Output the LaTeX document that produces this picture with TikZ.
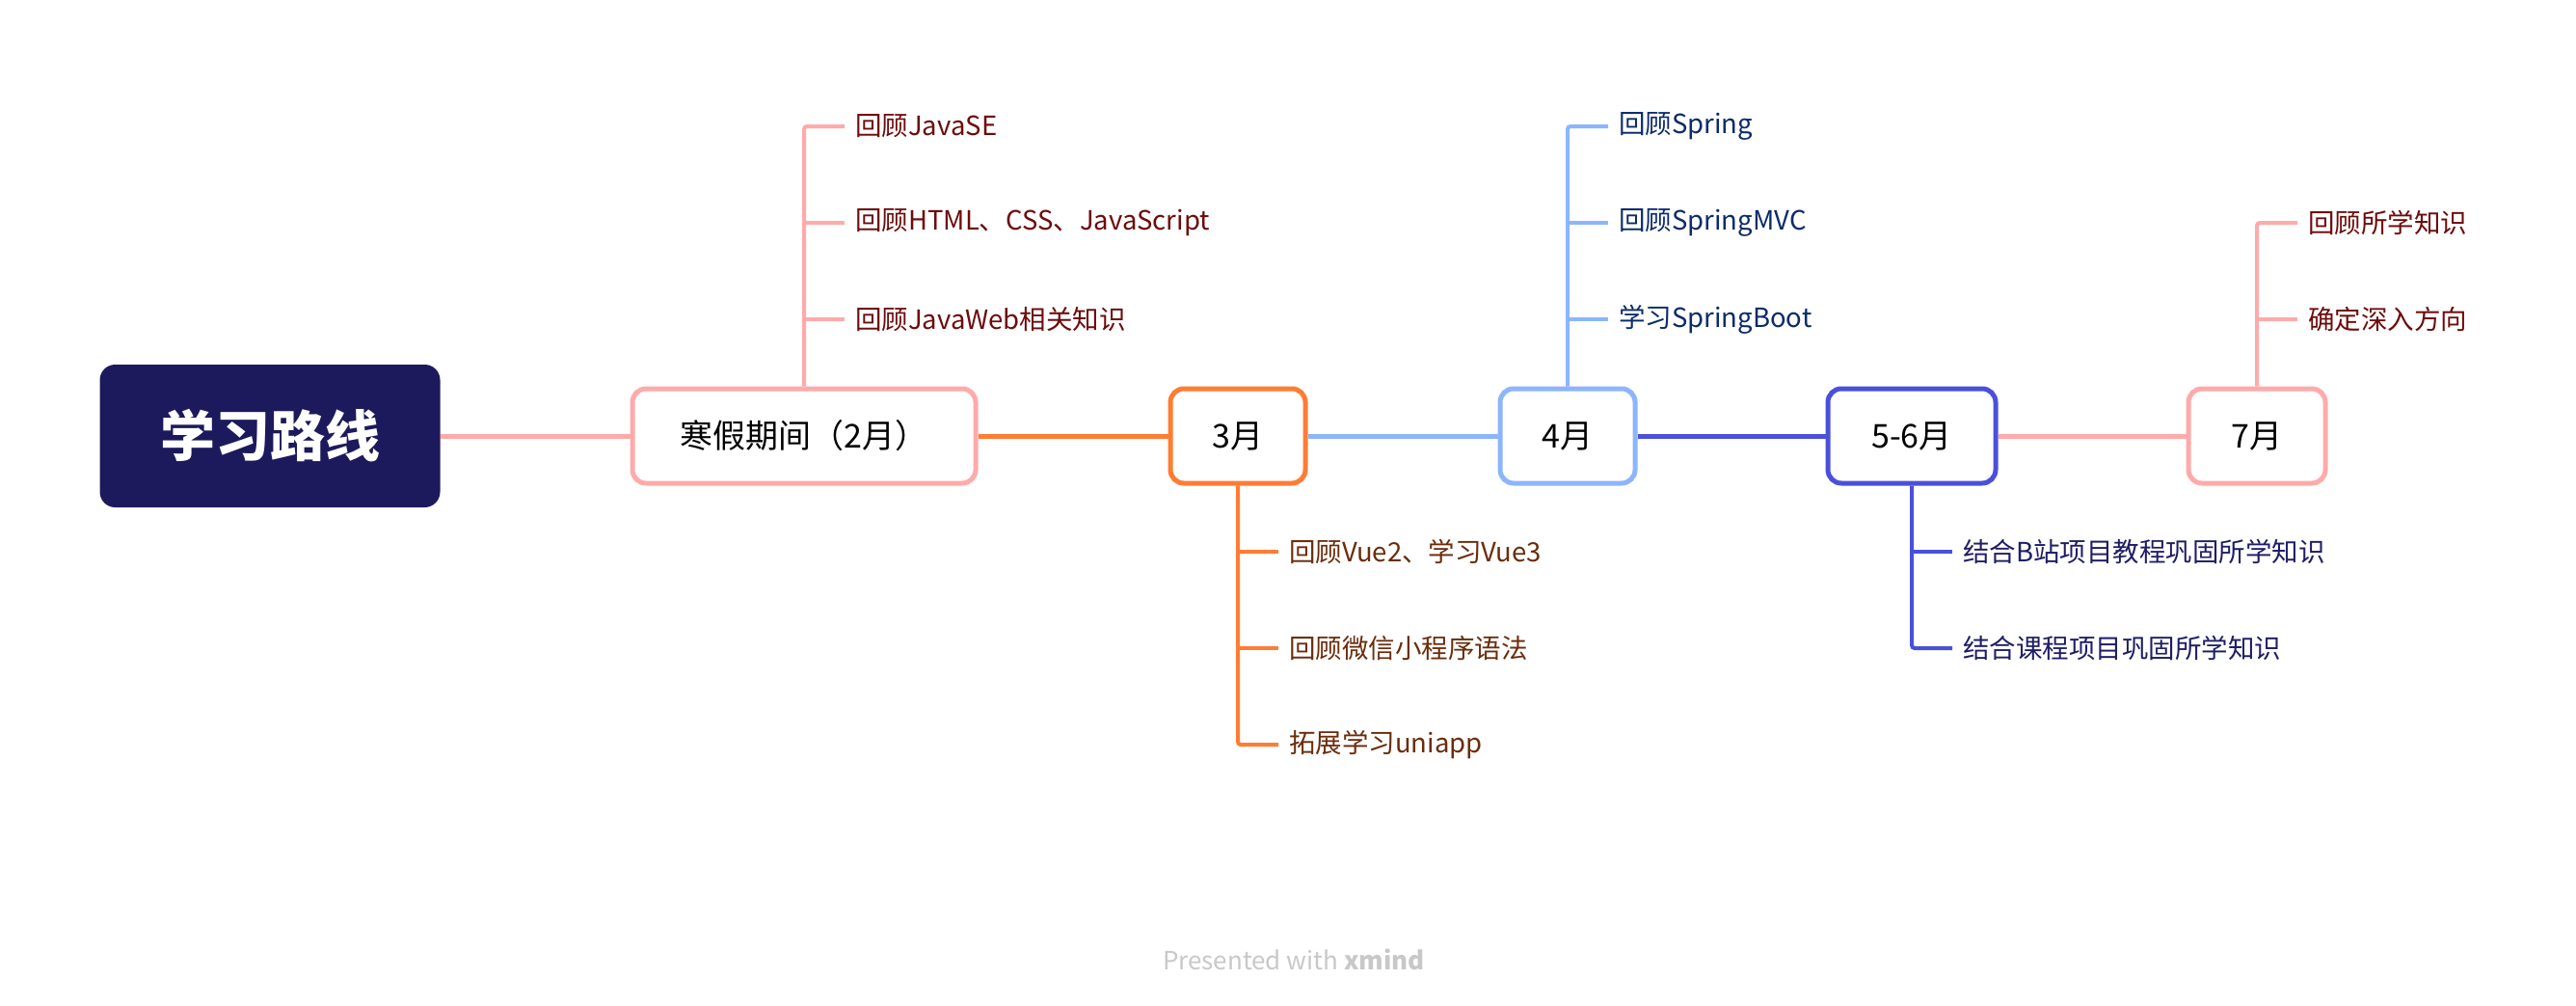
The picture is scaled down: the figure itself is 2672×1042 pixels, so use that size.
\documentclass[tikz,border=0pt]{standalone}
\usepackage{fontspec}
\setmainfont{Noto Sans CJK SC}
\usetikzlibrary{positioning}
\definecolor{rootblue}{HTML}{1C1A5C}
\definecolor{pinkline}{HTML}{FFAAAA}
\definecolor{orangeline}{HTML}{FF7C33}
\definecolor{skyline}{HTML}{8CB5FC}
\definecolor{indigoline}{HTML}{4B50DA}
\definecolor{redtext}{HTML}{6E0B0B}
\definecolor{browntext}{HTML}{6B2C0B}
\definecolor{navytext}{HTML}{0B2B6B}
\definecolor{indigotext}{HTML}{1E1E66}
\definecolor{marktext}{HTML}{C8C8C8}
\begin{document}
\begin{tikzpicture}[x=1pt,y=-1pt,
    month/.style={draw,line width=5pt,rounded corners=14pt,fill=white,
      minimum height=98pt,inner sep=0pt,font=\fontsize{34}{40}\selectfont},
    leaf/.style={anchor=west,inner xsep=11pt,inner ysep=0pt,
      font=\fontsize{27.5}{32}\selectfont},
    trunk/.style={line width=5pt},
    twig/.style={line width=4pt,rounded corners=3pt}]
  \fill[white] (0,0) rectangle (2672,1042);
  \useasboundingbox (0,0) rectangle (2672,1042);
  % main topics
  \node[fill=rootblue,rounded corners=16pt,minimum width=353pt,minimum height=148pt,
    text=white,font=\fontsize{57}{62}\selectfont\bfseries] (root) at (280,452) {学习路线};
  \node[month,draw=pinkline,minimum width=356pt] (feb) at (834,452) {寒假期间（2月）};
  \node[month,draw=orangeline,minimum width=140pt] (mar) at (1284,452) {3月};
  \node[month,draw=skyline,minimum width=140pt] (apr) at (1626,452) {4月};
  \node[month,draw=indigoline,minimum width=174pt] (mayjun) at (1983,452) {5-6月};
  \node[month,draw=pinkline,minimum width=142pt] (jul) at (2341,452) {7月};
  \draw[trunk,pinkline] (root) -- (feb);
  \draw[trunk,orangeline] (feb) -- (mar);
  \draw[trunk,skyline] (mar) -- (apr);
  \draw[trunk,indigoline] (apr) -- (mayjun);
  \draw[trunk,pinkline] (mayjun) -- (jul);
  % subtopics
  \begin{scope}[leaf]
    \node[text=redtext] (javase) at (876,131) {回顾JavaSE};
    \node[text=redtext] (html) at (876,231) {回顾HTML、CSS、JavaScript};
    \node[text=redtext] (javaweb) at (876,331) {回顾JavaWeb相关知识};
    \node[text=browntext] (vue) at (1326,572) {回顾Vue2、学习Vue3};
    \node[text=browntext] (wechat) at (1326,672) {回顾微信小程序语法};
    \node[text=browntext] (uniapp) at (1326,772) {拓展学习uniapp};
    \node[text=navytext] (spring) at (1668,131) {回顾Spring};
    \node[text=navytext] (mvc) at (1668,231) {回顾SpringMVC};
    \node[text=navytext] (boot) at (1668,331) {学习SpringBoot};
    \node[text=indigotext] (bili) at (2025,572) {结合B站项目教程巩固所学知识};
    \node[text=indigotext] (course) at (2025,672) {结合课程项目巩固所学知识};
    \node[text=redtext] (recap) at (2383,231) {回顾所学知识};
    \node[text=redtext] (aim) at (2383,331) {确定深入方向};
  \end{scope}
  \begin{scope}[twig]
    \draw[pinkline] (feb.north) |- (javase.west);
    \draw[pinkline] (feb.north |- html.west) -- (html.west);
    \draw[pinkline] (feb.north |- javaweb.west) -- (javaweb.west);
    \draw[orangeline] (mar.south) |- (uniapp.west);
    \draw[orangeline] (mar.south |- vue.west) -- (vue.west);
    \draw[orangeline] (mar.south |- wechat.west) -- (wechat.west);
    \draw[skyline] (apr.north) |- (spring.west);
    \draw[skyline] (apr.north |- mvc.west) -- (mvc.west);
    \draw[skyline] (apr.north |- boot.west) -- (boot.west);
    \draw[indigoline] (mayjun.south) |- (course.west);
    \draw[indigoline] (mayjun.south |- bili.west) -- (bili.west);
    \draw[pinkline] (jul.north) |- (recap.west);
    \draw[pinkline] (jul.north |- aim.west) -- (aim.west);
  \end{scope}
  \node[text=marktext,font=\fontsize{26}{30}\selectfont] (mark) at (1342,995)
    {Presented with \textbf{xmind}};
\end{tikzpicture}
\end{document}
